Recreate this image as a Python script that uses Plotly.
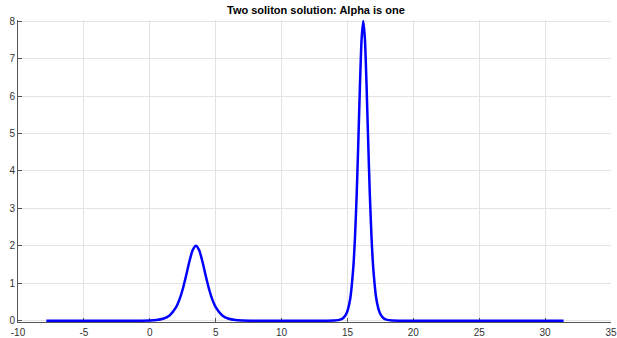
import plotly.graph_objects as go

title_text = "Two soliton solution: Alpha is one"

x_vals = [-7.85, -6, -4, -2, -1, 0, 0.5, 1, 1.5, 2, 2.25, 2.5, 2.75, 3.0, 3.25, 3.5,
          3.75, 4.0, 4.25, 4.5, 4.75, 5.0, 5.5, 6.0, 6.5, 7, 8, 10, 12, 13,
          14, 14.45, 14.7, 14.95, 15.2, 15.45, 15.575, 15.7, 15.825, 15.95, 16.075, 16.2,
          16.325, 16.45, 16.575, 16.7, 16.825, 16.95, 17.2, 17.45, 17.7, 17.95, 18.4,
          19, 22, 26, 31.4]
u_vals = [0, 0, 0, 0, 0.001, 0.007, 0.020, 0.053, 0.141, 0.361, 0.561, 0.840, 1.193, 1.573, 1.880, 2.0,
          1.880, 1.573, 1.193, 0.840, 0.561, 0.361, 0.141, 0.053, 0.020, 0.007, 0.001, 0, 0, 0,
          0.005, 0.029, 0.079, 0.213, 0.565, 1.446, 2.24, 3.36, 4.77, 6.29, 7.52, 8.0,
          7.52, 6.29, 4.77, 3.36, 2.24, 1.446, 0.565, 0.213, 0.079, 0.029, 0.005,
          0.001, 0, 0, 0]

x_ticks = [-10, -5, 0, 5, 10, 15, 20, 25, 30, 35]
y_ticks = [0, 1, 2, 3, 4, 5, 6, 7, 8]

fig = go.Figure()
fig.add_trace(go.Scatter(x=x_vals, y=u_vals, mode="lines",
                         line=dict(color="#0000ff", width=2.5, shape="spline", smoothing=0.6),
                         showlegend=False, hoverinfo="skip"))

axis_font = dict(family="Liberation Sans, Arial, sans-serif", size=10, color="#333333")
fig.update_layout(
    width=617, height=338,
    margin=dict(l=18, r=6, t=20, b=16, autoexpand=False),
    paper_bgcolor="white", plot_bgcolor="white",
    title=dict(text="<b>" + title_text + "</b>", x=0.512, xanchor="center",
               yref="container", y=1 - 10 / 338, yanchor="middle",
               font=dict(family="Liberation Sans, Arial, sans-serif", size=11, color="#000000")),
)
fig.update_xaxes(range=[-10, 35], tickvals=x_ticks, ticktext=[str(v) for v in x_ticks],
                 showgrid=True, gridcolor="#e3e3e3", gridwidth=1,
                 showline=True, linecolor="#555555", linewidth=1,
                 ticks="inside", ticklen=4, tickcolor="#555555", automargin=False,
                 ticklabelstandoff=1,
                 tickfont=axis_font, zeroline=False, layer="below traces")
fig.update_yaxes(range=[-0.035, 8.03], tickvals=y_ticks, ticktext=[str(v) for v in y_ticks],
                 showgrid=True, gridcolor="#e3e3e3", gridwidth=1,
                 showline=True, linecolor="#555555", linewidth=1,
                 ticks="inside", ticklen=4, tickcolor="#555555", automargin=False,
                 tickfont=axis_font, zeroline=False, layer="below traces")

fig.write_html("out.html", config={"displayModeBar": False},
               post_script="document.body.style.margin='0';document.body.style.overflow='hidden';")
